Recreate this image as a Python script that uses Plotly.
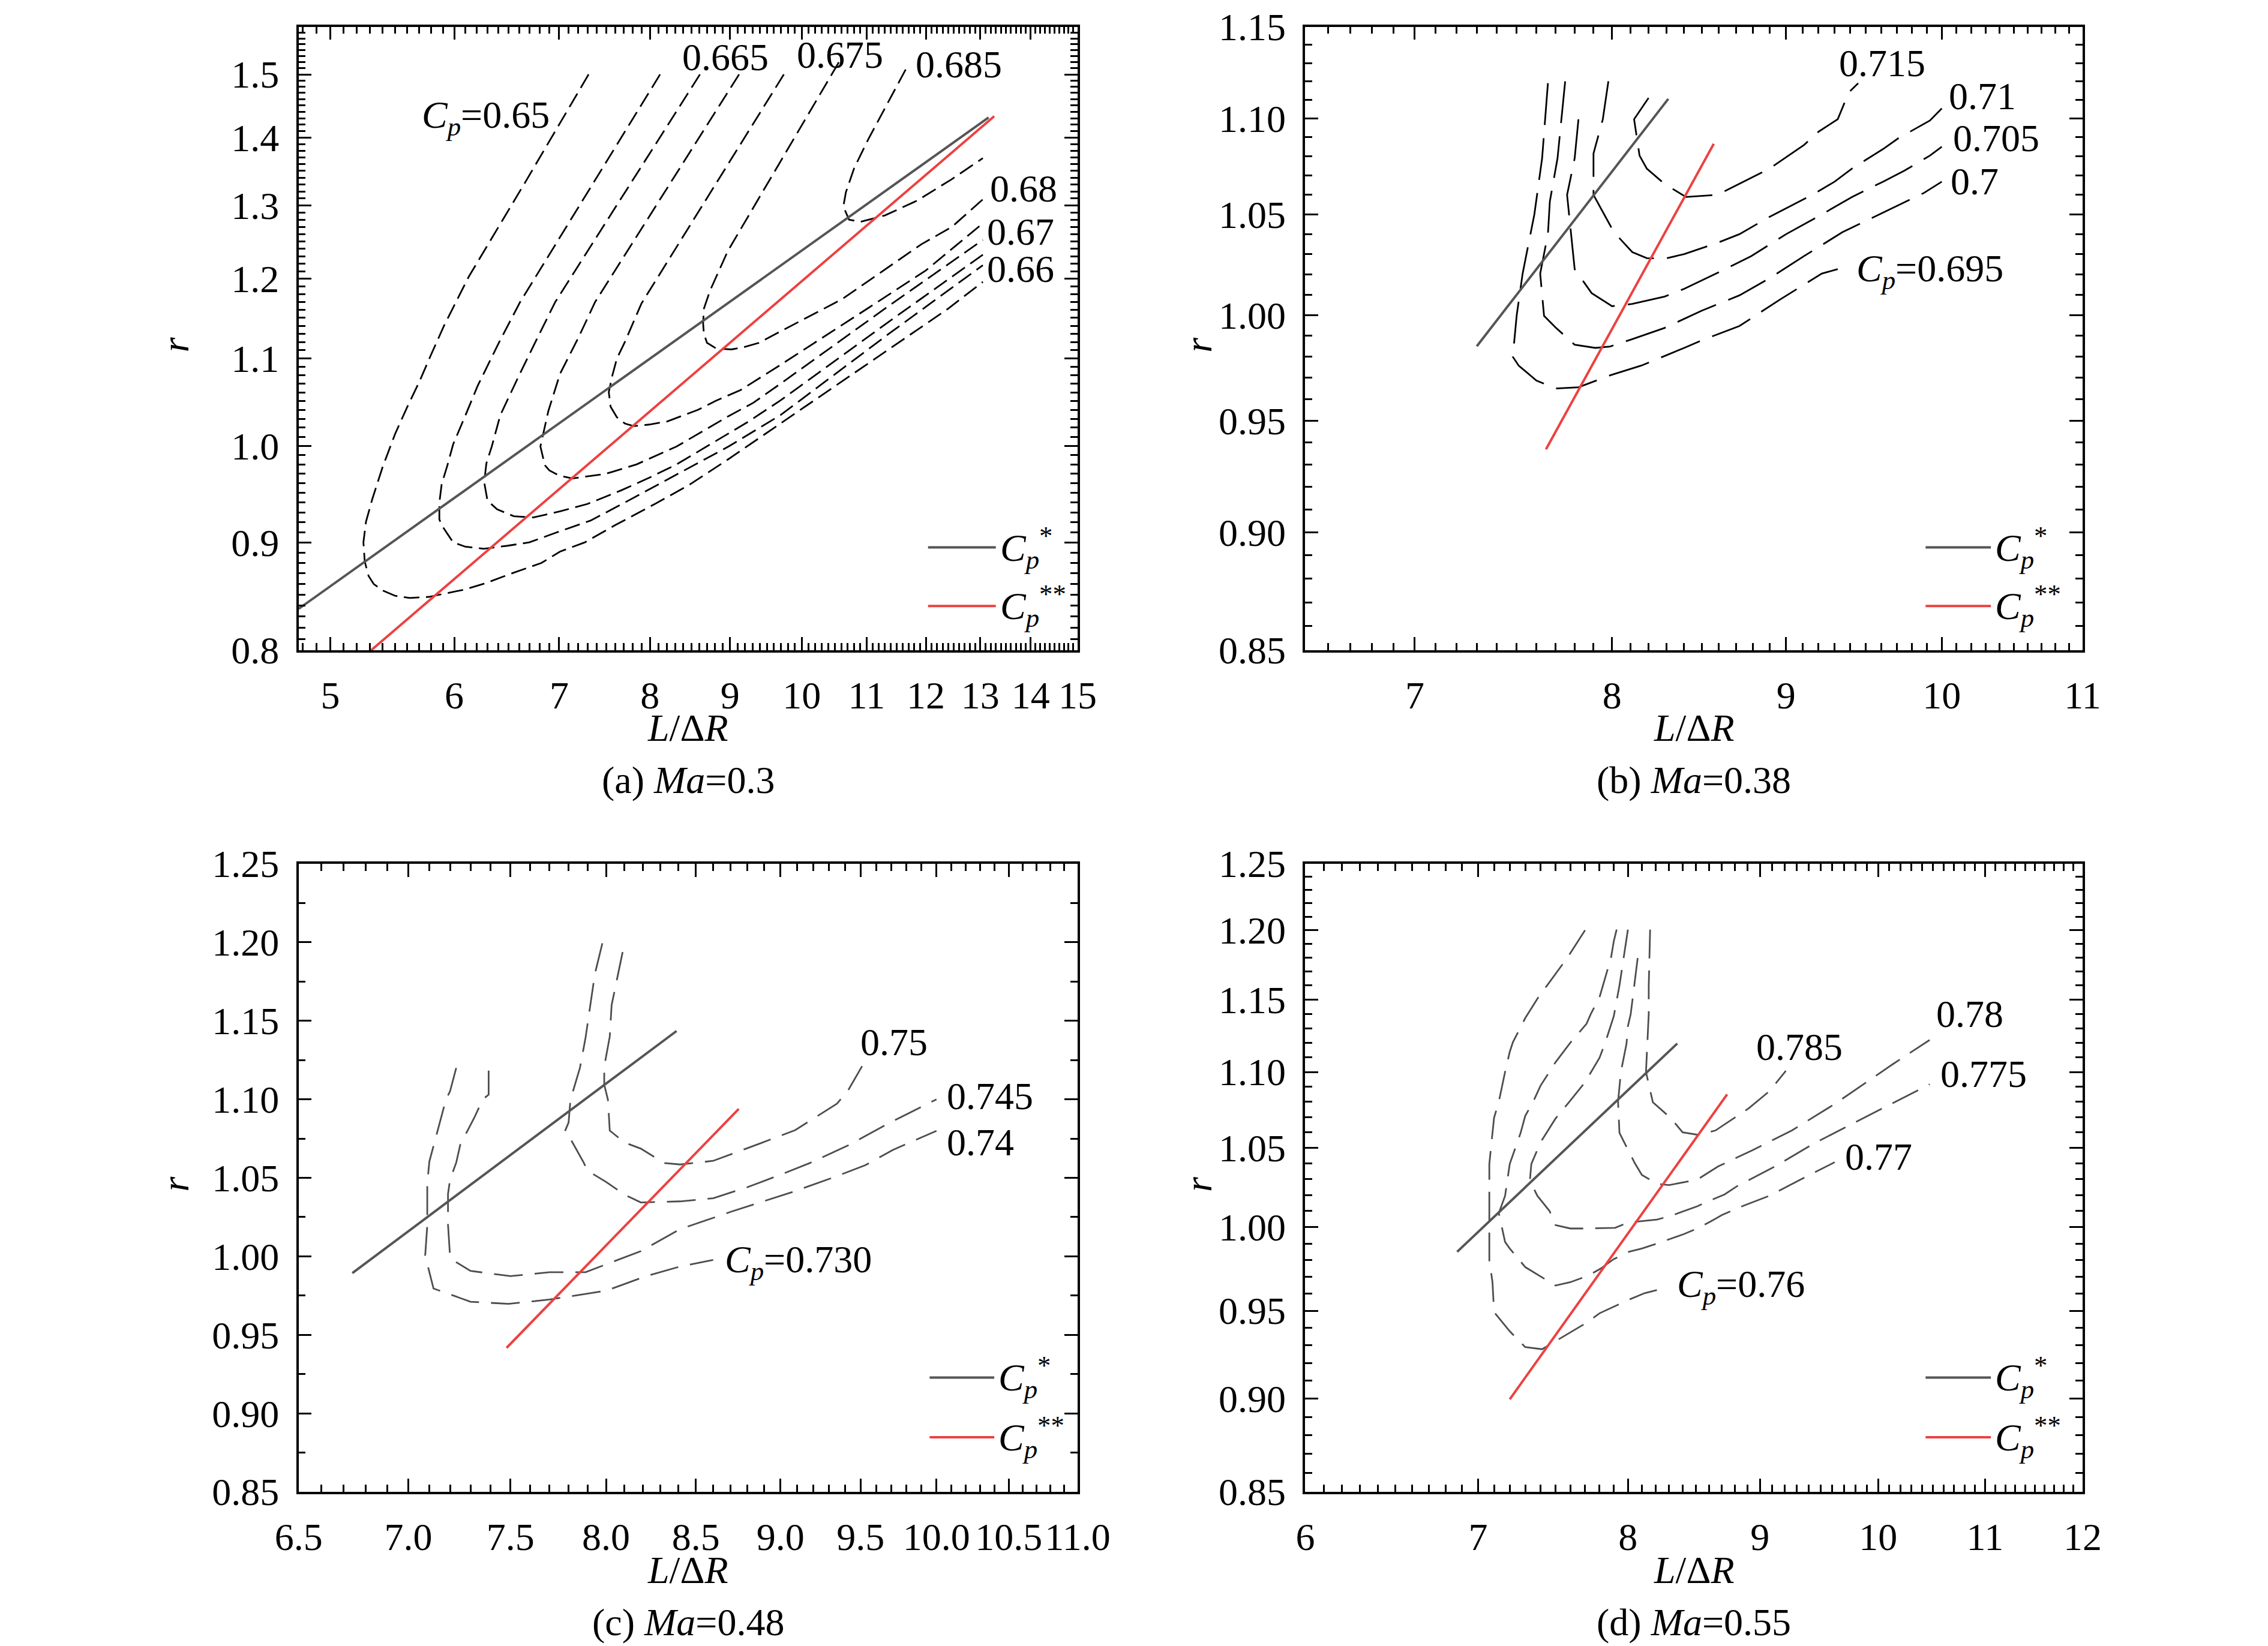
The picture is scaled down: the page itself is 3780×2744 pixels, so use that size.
import numpy as np
import plotly.graph_objects as go

FONT = "Liberation Serif"
GREY = "#555555"
RED = "#ec4141"
FS = 64

# ----------------------------------------------------------------------------- #
# (a) Ma=0.3  -- contours of Cp, x: L/dR, y: r (both log)                       #
# ----------------------------------------------------------------------------- #
a_065_x = [7.31, 6.67, 6.13, 5.91, 5.80, 5.70, 5.60, 5.50, 5.40, 5.32, 5.27, 5.25, 5.26, 5.29, 5.33,
           5.40, 5.50, 5.62, 5.78, 5.94, 6.10, 6.29, 6.49, 6.82, 7.01, 7.27, 7.60, 8.06, 8.47, 8.98,
           9.52, 11.4, 12.39, 13.05]
a_065_y = [1.50, 1.336, 1.203, 1.140, 1.105, 1.0725, 1.0436, 1.013, 0.977, 0.944, 0.9206, 0.900, 0.8815,
           0.8675, 0.860, 0.854, 0.849, 0.847, 0.848, 0.8515, 0.855, 0.861, 0.8686, 0.880, 0.891, 0.900,
           0.917, 0.9386, 0.958, 0.9857, 1.0154, 1.113, 1.161, 1.196]
a_066_x = [8.12, 6.61, 6.41, 6.21, 6.10, 5.99, 5.94, 5.89, 5.87, 5.87, 5.90, 5.99, 6.10, 6.265, 6.49,
           6.70, 6.98, 7.33, 7.71, 8.02, 8.43, 8.98, 9.69, 11.4, 13.05]
a_066_y = [1.50, 1.170, 1.120, 1.0677, 1.034, 1.0016, 0.979, 0.959, 0.940, 0.9227, 0.9153, 0.900, 0.8957,
           0.8937, 0.8967, 0.900, 0.910, 0.9216, 0.940, 0.955, 0.9746, 0.9993, 1.034, 1.132, 1.218]
a_0665_x = [8.61, 6.96, 6.76, 6.60, 6.42, 6.34, 6.29, 6.27, 6.30, 6.39, 6.55, 6.74, 7.01, 7.30, 7.67,
            8.02, 8.32, 8.70, 9.23, 9.69, 11.4, 13.05]
a_0665_y = [1.50, 1.170, 1.120, 1.080, 1.034, 0.9993, 0.981, 0.961, 0.942, 0.933, 0.926, 0.9248, 0.931,
            0.9386, 0.9526, 0.967, 0.980, 0.9993, 1.026, 1.0507, 1.147, 1.232]
a_067_x = [9.12, 7.38, 7.20, 7.01, 6.89, 6.81, 6.855, 6.90, 7.00, 7.14, 7.50, 7.845, 8.32, 8.584, 8.98,
           9.31, 9.69, 11.4, 13.05]
a_067_y = [1.50, 1.170, 1.125, 1.082, 1.0388, 0.9993, 0.979, 0.9735, 0.968, 0.965, 0.970, 0.980, 0.9993,
           1.013, 1.033, 1.048, 1.070, 1.167, 1.252]
a_0675_x = [9.74, 7.90, 7.71, 7.62, 7.57, 7.53, 7.55, 7.62, 7.71, 7.81, 7.99, 8.205, 8.584, 8.82, 9.14,
            9.69, 11.0, 12.0, 13.05]
a_0675_y = [1.50, 1.168, 1.120, 1.0998, 1.080, 1.0604, 1.0436, 1.0317, 1.0247, 1.0217, 1.0235, 1.027,
            1.040, 1.0507, 1.0628, 1.0923, 1.161, 1.211, 1.275]
a_068_x = [10.56, 8.97, 8.74, 8.66, 8.65, 8.66, 8.70, 8.82, 9.02, 9.18, 9.39, 9.69, 10.61, 11.43, 11.92,
           12.47, 13.05]
a_068_y = [1.52, 1.237, 1.185, 1.1616, 1.143, 1.130, 1.119, 1.112, 1.111, 1.1136, 1.119, 1.133, 1.1736,
           1.219, 1.246, 1.270, 1.3087]
a_0685_x = [11.65, 11.21, 11.03, 10.80, 10.67, 10.63, 10.72, 10.90, 11.30, 11.85, 12.47, 13.05]
a_0685_y = [1.508, 1.429, 1.398, 1.354, 1.319, 1.2985, 1.280, 1.277, 1.286, 1.307, 1.338, 1.369]

a_star_x = [4.773, 13.16]
a_star_y = [0.837, 1.431]
a_dstar_x = [5.31, 13.27]
a_dstar_y = [0.80, 1.433]

a_lbl_text = ["<i>C</i><sub><i>p</i></sub>=0.65", "0.665", "0.675", "0.685", "0.68", "0.67", "0.66"]
a_lbl_x = [5.71, 8.37, 9.91, 11.80, 13.16, 13.11, 13.11]
a_lbl_y = [1.431, 1.528, 1.532, 1.5165, 1.324, 1.263, 1.213]

# ----------------------------------------------------------------------------- #
# (b) Ma=0.38                                                                   #
# ----------------------------------------------------------------------------- #
b_0695_x = [7.66, 7.63, 7.59, 7.53, 7.50, 7.48, 7.51, 7.60, 7.70, 7.82, 7.99, 8.16, 8.40, 8.50, 8.72,
            8.96, 9.22, 9.32]
b_0695_y = [1.119, 1.079, 1.050, 1.0203, 1.000, 0.980, 0.9758, 0.9688, 0.965, 0.9656, 0.9712, 0.9758,
            0.9842, 0.9878, 0.9947, 1.0074, 1.0203, 1.0225]
b_070_x = [7.75, 7.71, 7.67, 7.66, 7.62, 7.64, 7.70, 7.80, 7.91, 7.99, 8.11, 8.29, 8.50, 8.72, 8.90,
           9.11, 9.35, 9.61, 9.88, 10.0]
b_070_y = [1.12, 1.079, 1.0566, 1.040, 1.0203, 0.9996, 0.994, 0.9857, 0.9842, 0.9849, 0.9884, 0.9938,
           1.0021, 1.0096, 1.018, 1.029, 1.041, 1.051, 1.061, 1.0668]
b_0705_x = [7.82, 7.80, 7.76, 7.78, 7.80, 7.89, 8.00, 8.11, 8.29, 8.40, 8.61, 8.79, 9.00, 9.22, 9.41,
            9.61, 9.75, 9.92, 10.0]
b_0705_y = [1.0996, 1.079, 1.06, 1.041, 1.0225, 1.0107, 1.0043, 1.0054, 1.009, 1.0128, 1.0214, 1.029,
            1.040, 1.050, 1.0589, 1.0668, 1.0725, 1.0804, 1.085]
b_071_x = [7.98, 7.95, 7.90, 7.90, 8.01, 8.11, 8.19, 8.29, 8.40, 8.59, 8.72, 8.90, 9.16, 9.30, 9.41,
           9.61, 9.71, 9.92, 10.0]
b_071_y = [1.12, 1.0996, 1.0815, 1.06, 1.041, 1.031, 1.028, 1.0277, 1.030, 1.0356, 1.040, 1.0488, 1.06,
           1.0668, 1.0736, 1.0838, 1.0895, 1.0989, 1.1054]
b_0715_x = [8.20, 8.12, 8.15, 8.19, 8.29, 8.41, 8.59, 8.77, 8.90, 9.11, 9.20, 9.32, 9.39, 9.45]
b_0715_y = [1.111, 1.0996, 1.0804, 1.0736, 1.0656, 1.0589, 1.060, 1.068, 1.0736, 1.086, 1.093, 1.0996,
            1.114, 1.119]

b_star_x = [7.30, 8.31]
b_star_y = [0.985, 1.1105]
b_dstar_x = [7.65, 8.57]
b_dstar_y = [0.937, 1.0866]

b_lbl_text = ["0.715", "0.71", "0.705", "0.7", "<i>C</i><sub><i>p</i></sub>=0.695"]
b_lbl_x = [9.32, 10.04, 10.07, 10.05, 9.43]
b_lbl_y = [1.130, 1.112, 1.0895, 1.0668, 1.0214]

# ----------------------------------------------------------------------------- #
# (c) Ma=0.48  (y linear)                                                       #
# ----------------------------------------------------------------------------- #
c_073_x = [7.23, 7.20, 7.18, 7.10, 7.09, 7.09, 7.08, 7.12, 7.30, 7.49, 7.70, 8.00, 8.22, 8.41, 8.60]
c_073_y = [1.12, 1.1052, 1.0998, 1.0604, 1.0463, 1.0196, 1.0005, 0.9795, 0.9711, 0.9697, 0.9725, 0.9781,
           0.9874, 0.9935, 0.9977]
c_074_x = [7.39, 7.39, 7.36, 7.32, 7.25, 7.23, 7.20, 7.19, 7.19, 7.20, 7.23, 7.30, 7.50, 7.70, 7.89,
           8.19, 8.41, 8.71, 9.08, 9.31, 9.53, 9.71, 10.0]
c_074_y = [1.1183, 1.103, 1.0998, 1.0886, 1.0712, 1.0597, 1.0489, 1.0397, 1.0202, 0.9997, 0.9963, 0.9907,
           0.9874, 0.9899, 0.9899, 1.0033, 1.0173, 1.0286, 1.0412, 1.0496, 1.058, 1.0678, 1.0799]
c_0745_x = [7.98, 7.97, 7.94, 7.89, 7.86, 7.81, 7.80, 7.78, 7.80, 7.88, 7.90, 8.00, 8.10, 8.19, 8.41,
            8.60, 8.80, 9.01, 9.18, 9.42, 9.68, 10.0]
c_0745_y = [1.1994, 1.1943, 1.18, 1.1393, 1.12, 1.0998, 1.0852, 1.0795, 1.077, 1.0597, 1.0546, 1.0474,
            1.0393, 1.0343, 1.035, 1.037, 1.044, 1.0524, 1.0594, 1.0706, 1.0846, 1.10]
c_075_x = [8.09, 8.03, 8.02, 7.99, 7.99, 8.01, 8.02, 8.10, 8.19, 8.32, 8.41, 8.60, 8.88, 9.09, 9.35,
           9.42, 9.51]
c_075_y = [1.1938, 1.16, 1.14, 1.1208, 1.1094, 1.0998, 1.0801, 1.0725, 1.0686, 1.0594, 1.0585, 1.0608,
           1.072, 1.0804, 1.0972, 1.1056, 1.1211]

c_star_x = [6.74, 8.39]
c_star_y = [0.9893, 1.1435]
c_dstar_x = [7.48, 8.75]
c_dstar_y = [0.9417, 1.0939]

c_lbl_text = ["0.75", "0.745", "0.74", "<i>C</i><sub><i>p</i></sub>=0.730"]
c_lbl_x = [9.49, 10.06, 10.06, 8.66]
c_lbl_y = [1.1365, 1.102, 1.0726, 0.9963]

# ----------------------------------------------------------------------------- #
# (d) Ma=0.55                                                                   #
# ----------------------------------------------------------------------------- #
d_076_x = [7.70, 7.60, 7.58, 7.44, 7.40, 7.30, 7.22, 7.20, 7.17, 7.13, 7.10, 7.09, 7.07, 7.07, 7.07,
           7.07, 7.09, 7.10, 7.20, 7.30, 7.41, 7.50, 7.71, 7.80, 8.00, 8.12, 8.22]
d_076_y = [1.20, 1.1836, 1.180, 1.1595, 1.154, 1.137, 1.1202, 1.1137, 1.100, 1.080, 1.0695, 1.0596,
           1.0396, 1.010, 0.9995, 0.980, 0.9668, 0.9492, 0.9381, 0.929, 0.9278, 0.9324, 0.943, 0.9485,
           0.9562, 0.9603, 0.9623]
d_077_x = [7.92, 7.90, 7.88, 7.80, 7.74, 7.71, 7.60, 7.50, 7.40, 7.35, 7.30, 7.27, 7.20, 7.17, 7.13,
           7.17, 7.20, 7.30, 7.50, 7.60, 7.72, 7.81, 7.90, 8.01, 8.10, 8.20, 8.41, 8.52, 8.61, 8.70, 8.84,
           9.08, 9.34, 9.62]
d_077_y = [1.2005, 1.192, 1.1797, 1.1517, 1.140, 1.133, 1.120, 1.1066, 1.0907, 1.0797, 1.0707, 1.0596,
           1.0396, 1.0194, 1.0087, 0.991, 0.987, 0.9758, 0.9648, 0.9668, 0.9706, 0.975, 0.9806, 0.9851,
           0.987, 0.9897, 0.9958, 0.9995, 1.0034, 1.0075, 1.0124, 1.0196, 1.030, 1.0407]
d_0775_x = [8.00, 7.97, 7.94, 7.90, 7.84, 7.80, 7.74, 7.70, 7.59, 7.50, 7.40, 7.34, 7.33, 7.38, 7.46,
            7.50, 7.60, 7.71, 7.91, 8.00, 8.21, 8.31, 8.51, 8.61, 8.72, 8.82, 9.13, 9.44, 9.81, 10.19,
            10.47]
d_0775_y = [1.2005, 1.1797, 1.160, 1.1384, 1.120, 1.1096, 1.100, 1.0931, 1.0797, 1.069, 1.0534, 1.0396,
            1.0288, 1.0194, 1.010, 1.0013, 0.9992, 0.9992, 0.9996, 1.0029, 1.0047, 1.0069, 1.0129,
            1.0166, 1.0203, 1.0256, 1.0384, 1.0526, 1.067, 1.0815, 1.0917]
d_078_x = [8.07, 8.02, 8.00, 7.99, 7.95, 7.93, 7.94, 8.01, 8.05, 8.10, 8.21, 8.30, 8.51, 8.67, 8.94,
           9.26, 9.62, 10.13, 10.47]
d_078_y = [1.1797, 1.1398, 1.1314, 1.1192, 1.100, 1.080, 1.0596, 1.047, 1.040, 1.0326, 1.027, 1.0262,
           1.0296, 1.038, 1.0484, 1.0612, 1.0786, 1.1052, 1.1218]
d_0785_x = [8.16, 8.15, 8.15, 8.13, 8.18, 8.31, 8.40, 8.52, 8.65, 8.91, 9.08, 9.21]
d_0785_y = [1.2005, 1.1595, 1.140, 1.100, 1.0797, 1.0694, 1.060, 1.0583, 1.0612, 1.0757, 1.0874, 1.1008]

d_star_x = [6.87, 8.36]
d_star_y = [0.985, 1.1194]
d_dstar_x = [7.20, 8.74]
d_dstar_y = [0.8997, 1.085]

d_lbl_text = ["0.785", "0.78", "0.775", "0.77", "<i>C</i><sub><i>p</i></sub>=0.76"]
d_lbl_x = [8.96, 10.52, 10.56, 9.70, 8.35]
d_lbl_y = [1.117, 1.140, 1.0986, 1.044, 0.964]

# tick labels
a_xticks = [5, 6, 7, 8, 9, 10, 11, 12, 13, 14, 15]
a_yticks = [0.8, 0.9, 1.0, 1.1, 1.2, 1.3, 1.4, 1.5]
b_xticks = [7, 8, 9, 10, 11]
b_yticks = [0.85, 0.90, 0.95, 1.00, 1.05, 1.10, 1.15]
c_xticks = [6.5, 7.0, 7.5, 8.0, 8.5, 9.0, 9.5, 10.0, 10.5, 11.0]
c_yticks = [0.85, 0.90, 0.95, 1.00, 1.05, 1.10, 1.15, 1.20, 1.25]
d_xticks = [6, 7, 8, 9, 10, 11, 12]
d_yticks = [0.85, 0.90, 0.95, 1.00, 1.05, 1.10, 1.15, 1.20, 1.25]

captions = ["(a) <i>Ma</i>=0.3", "(b) <i>Ma</i>=0.38", "(c) <i>Ma</i>=0.48", "(d) <i>Ma</i>=0.55"]


def minor_between(lo, hi, step, major_step):
    vals = np.round(np.arange(lo, hi + step / 2, step), 3)
    return [float(v) for v in vals if abs(v / major_step - round(v / major_step)) > 1e-6]


fig = go.Figure()

panels = [
    dict(sfx="", contours=[(a_065_x, a_065_y), (a_066_x, a_066_y), (a_0665_x, a_0665_y), (a_067_x, a_067_y),
                           (a_0675_x, a_0675_y), (a_068_x, a_068_y), (a_0685_x, a_0685_y)],
         star=(a_star_x, a_star_y), dstar=(a_dstar_x, a_dstar_y),
         lbl=(a_lbl_text, a_lbl_x, a_lbl_y), color="black", dash="26px,11px", ylog=True),
    dict(sfx="2", contours=[(b_0695_x, b_0695_y), (b_070_x, b_070_y), (b_0705_x, b_0705_y),
                            (b_071_x, b_071_y), (b_0715_x, b_0715_y)],
         star=(b_star_x, b_star_y), dstar=(b_dstar_x, b_dstar_y),
         lbl=(b_lbl_text, b_lbl_x, b_lbl_y), color="black", dash="70px,22px", ylog=True),
    dict(sfx="3", contours=[(c_073_x, c_073_y), (c_074_x, c_074_y), (c_0745_x, c_0745_y), (c_075_x, c_075_y)],
         star=(c_star_x, c_star_y), dstar=(c_dstar_x, c_dstar_y),
         lbl=(c_lbl_text, c_lbl_x, c_lbl_y), color="#4d4d4d", dash="48px,20px", ylog=False),
    dict(sfx="4", contours=[(d_076_x, d_076_y), (d_077_x, d_077_y), (d_0775_x, d_0775_y),
                            (d_078_x, d_078_y), (d_0785_x, d_0785_y)],
         star=(d_star_x, d_star_y), dstar=(d_dstar_x, d_dstar_y),
         lbl=(d_lbl_text, d_lbl_x, d_lbl_y), color="#4d4d4d", dash="48px,20px", ylog=True),
]

for p in panels:
    xa, ya = "x" + p["sfx"], "y" + p["sfx"]
    for cx, cy in p["contours"]:
        fig.add_trace(go.Scatter(x=cx, y=cy, mode="lines", xaxis=xa, yaxis=ya, hoverinfo="skip",
                                 line=dict(color=p["color"], width=2.8, dash=p["dash"])))
    fig.add_trace(go.Scatter(x=p["star"][0], y=p["star"][1], mode="lines", xaxis=xa, yaxis=ya,
                             line=dict(color=GREY, width=4)))
    fig.add_trace(go.Scatter(x=p["dstar"][0], y=p["dstar"][1], mode="lines", xaxis=xa, yaxis=ya,
                             line=dict(color=RED, width=4)))
    for t, lx, ly in zip(*p["lbl"]):
        fig.add_annotation(x=np.log10(lx), y=np.log10(ly) if p["ylog"] else ly, xref=xa, yref=ya,
                           text=t, showarrow=False, xanchor="left", yanchor="middle",
                           font=dict(family=FONT, size=FS, color="black"))


def axis(domain, anchor, typ, rng, tickvals, ticktext, minor_vals):
    return dict(domain=domain, anchor=anchor, type=typ, range=rng, automargin=False,
                tickmode="array", tickvals=tickvals, ticktext=ticktext, tickangle=0,
                ticks="inside", ticklen=22, tickwidth=3, tickcolor="black",
                showline=True, linewidth=3.5, linecolor="black", mirror="allticks",
                showgrid=False, zeroline=False, ticklabelstandoff=16,
                tickfont=dict(family=FONT, size=FS, color="black"),
                minor=dict(tickmode="array", tickvals=minor_vals, ticks="inside", ticklen=12,
                           tickwidth=2.5, tickcolor="black", showgrid=False))


# panel domains (the page sits 8 px in from the window corner)
xd_l, xd_r = [0.12955, 0.47302], [0.57341, 0.91614]
yd_t, yd_b = [0.60787, 0.98663], [0.09657, 0.47813]
lg = np.log10

fig.update_layout(
    xaxis=axis(xd_l, "y", "log", [lg(4.773), lg(15)], a_xticks, [str(v) for v in a_xticks],
               minor_between(4.8, 14.9, 0.1, 1)),
    yaxis=axis(yd_t, "x", "log", [lg(0.8), lg(1.58)], a_yticks, [f"{v:.1f}" for v in a_yticks],
               minor_between(0.81, 1.57, 0.01, 0.1)),
    xaxis2=axis(xd_r, "y2", "log", [lg(6.5), lg(11)], b_xticks, [str(v) for v in b_xticks],
                minor_between(6.5, 10.9, 0.1, 1)),
    yaxis2=axis(yd_t, "x2", "log", [lg(0.85), lg(1.15)], b_yticks, [f"{v:.2f}" for v in b_yticks],
                minor_between(0.85, 1.15, 0.01, 0.05)),
    xaxis3=axis(xd_l, "y3", "log", [lg(6.5), lg(11)], c_xticks, [f"{v:.1f}" for v in c_xticks],
                minor_between(6.5, 11.0, 0.1, 0.5)),
    yaxis3=axis(yd_b, "x3", "linear", [0.85, 1.25], c_yticks, [f"{v:.2f}" for v in c_yticks],
                [0.875, 0.925, 0.975, 1.025, 1.075, 1.125, 1.175, 1.225]),
    xaxis4=axis(xd_r, "y4", "log", [lg(6), lg(12)], d_xticks, [str(v) for v in d_xticks],
                minor_between(6.0, 12.0, 0.1, 1)),
    yaxis4=axis(yd_b, "x4", "log", [lg(0.85), lg(1.25)], d_yticks, [f"{v:.2f}" for v in d_yticks],
                minor_between(0.85, 1.25, 0.01, 0.05)),
)

# axis titles, captions and key (C_p*, C_p**)
r_x = [-0.158, -0.137, -0.158, -0.137]
key_y = [(0.165, 0.071), (0.165, 0.071), (0.182, 0.087), (0.182, 0.087)]
key_x = [(0.808, 0.895), (0.798, 0.882), (0.810, 0.893), (0.798, 0.882)]
for i, sfx in enumerate(["", "2", "3", "4"]):
    xr, yr = f"x{sfx} domain", f"y{sfx} domain"
    fnt = dict(family=FONT, size=FS, color="black")
    fig.add_annotation(x=0.5, y=-0.125, xref=xr, yref=yr, text="<i>L</i>/Δ<i>R</i>", showarrow=False,
                       xanchor="center", yanchor="middle", font=fnt)
    fig.add_annotation(x=0.5, y=-0.208, xref=xr, yref=yr, text=captions[i], showarrow=False,
                       xanchor="center", yanchor="middle", font=fnt)
    fig.add_annotation(x=r_x[i], y=0.49, xref=xr, yref=yr, text="<i>r</i>", showarrow=False,
                       textangle=-90, xanchor="center", yanchor="middle", font=fnt)
    for ky, col, txt in [(key_y[i][0], GREY, "<i>C</i><sub><i>p</i></sub><sup>*</sup>"),
                         (key_y[i][1], RED, "<i>C</i><sub><i>p</i></sub><sup>**</sup>")]:
        fig.add_shape(type="line", xref=xr, yref=yr, x0=key_x[i][0], x1=key_x[i][1], y0=ky, y1=ky,
                      line=dict(color=col, width=4))
        fig.add_annotation(x=key_x[i][1] + 0.004, y=ky, xref=xr, yref=yr, text=txt, showarrow=False,
                           xanchor="left", yanchor="middle", font=fnt)

fig.update_layout(template="none", width=3780, height=2744,
                  margin=dict(l=0, r=0, t=0, b=0, autoexpand=False),
                  plot_bgcolor="white", paper_bgcolor="white", showlegend=False,
                  font=dict(family=FONT, size=FS, color="black"))

fig.write_html("out.html")
